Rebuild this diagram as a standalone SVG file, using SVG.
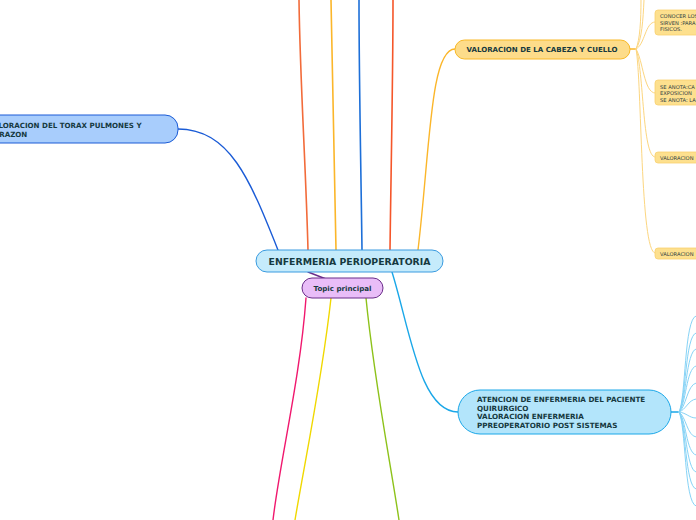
<svg xmlns="http://www.w3.org/2000/svg" width="696" height="520" viewBox="0 0 696 520">
<style>
.t{font-family:"DejaVu Sans",Verdana,sans-serif;font-weight:bold;fill:#16393f}
.s{font-family:"DejaVu Sans",Verdana,sans-serif;fill:#2b3a3f;font-size:5.2px}
.c{fill:none;stroke-linecap:round}
.fy{stroke:#fcd680;stroke-width:1}
.fb{stroke:#86d3f6;stroke-width:1}
.small{fill:#fde08e;stroke:#f9d070;stroke-width:0.8}
</style>
<rect width="696" height="520" fill="#ffffff"/>
<g id="connectors">
  <path class="c" d="M308,250 C306,170 300,80 299,0" stroke="#f26b3a" stroke-width="1.6"/>
  <path class="c" d="M336,250 C335,170 332,80 331,0" stroke="#fbb62a" stroke-width="1.6"/>
  <path class="c" d="M362,250 C361,170 359,80 359,0" stroke="#1d6fd8" stroke-width="1.6"/>
  <path class="c" d="M390,250 C391,170 393,80 393,0" stroke="#f5562a" stroke-width="1.6"/>
  <path class="c" d="M418,250 C430,150 430,49 455,49" stroke="#fbb62a" stroke-width="1.4"/>
  <path class="c" d="M278,250 C250,180 230,129 178,129" stroke="#1a5bd6" stroke-width="1.4"/>
  <path class="c" d="M392,272 C410,330 420,412 458,412" stroke="#1aa7e8" stroke-width="1.4"/>
  <path class="c" d="M308,272 L326,279" stroke="#6a2d8a" stroke-width="1.4"/>
  <path class="c" d="M306,298 C300,380 280,460 273,520" stroke="#f0186e" stroke-width="1.4"/>
  <path class="c" d="M331,298 C322,380 305,460 295,520" stroke="#f0d800" stroke-width="1.4"/>
  <path class="c" d="M366,298 C374,380 390,460 399,520" stroke="#8dc21a" stroke-width="1.4"/>
  <path class="c" d="M630,49 L636,49" stroke="#fbb62a" stroke-width="1.4"/>
  <path class="c fy" d="M636,49 C640,40 641,20 641,0"/>
  <path class="c fy" d="M636,49 C642,40 643,20 644,0"/>
  <path class="c fy" d="M636,49 C645,45 645,22 655,22"/>
  <path class="c fy" d="M636,49 C643,60 644,93 655,93"/>
  <path class="c fy" d="M636,49 C644,70 642,157 655,157"/>
  <path class="c fy" d="M636,49 C642,80 640,253 655,253"/>
  <path class="c" d="M671,412 L679,412" stroke="#1aa7e8" stroke-width="1.4"/>
  <path class="c fb" d="M679,412 C686,400 684,318 696,316"/>
  <path class="c fb" d="M679,412 C686,402 685,335 696,333"/>
  <path class="c fb" d="M679,412 C686,404 686,351 696,349"/>
  <path class="c fb" d="M679,412 C686,406 686,368 696,366"/>
  <path class="c fb" d="M679,412 C686,408 687,385 696,383"/>
  <path class="c fb" d="M679,412 C686,410 688,400 696,399"/>
  <path class="c fb" d="M679,412 C687,413 689,418 696,418"/>
  <path class="c fb" d="M679,412 C686,416 687,436 696,437"/>
  <path class="c fb" d="M679,412 C686,418 686,453 696,455"/>
  <path class="c fb" d="M679,412 C686,420 686,470 696,472"/>
  <path class="c fb" d="M679,412 C686,422 685,487 696,489"/>
  <path class="c fb" d="M679,412 C686,424 684,503 696,506"/>
</g>
<g id="node-torax">
  <rect x="-30" y="115" width="208" height="28" rx="13" fill="#a8cdfc" stroke="#1a5bd6" stroke-width="1"/>
  <text class="t" x="-12" y="128" font-size="7.1">VALORACION DEL TORAX PULMONES Y</text>
  <text class="t" x="-12" y="137" font-size="7.1">CORAZON</text>
</g>
<g id="node-central">
  <rect x="256" y="250" width="187" height="22" rx="11" fill="#c5ebfb" stroke="#3a9be0" stroke-width="1"/>
  <text class="t" x="349.5" y="264.5" font-size="8.4" text-anchor="middle" textLength="162" lengthAdjust="spacingAndGlyphs">ENFERMERIA PERIOPERATORIA</text>
</g>
<g id="node-topic">
  <rect x="302" y="278" width="81" height="20" rx="10" fill="#e9bdf8" stroke="#6a2d8a" stroke-width="1"/>
  <text class="t" x="342.5" y="291" font-size="7" text-anchor="middle" textLength="58" lengthAdjust="spacingAndGlyphs">Topic principal</text>
</g>
<g id="node-cabeza">
  <rect x="455" y="40" width="175" height="19" rx="9.5" fill="#fddc8a" stroke="#f8b928" stroke-width="1"/>
  <text class="t" x="542" y="52" font-size="7" text-anchor="middle" textLength="151" lengthAdjust="spacingAndGlyphs">VALORACION DE LA CABEZA Y CUELLO</text>
</g>
<g id="node-atencion">
  <rect x="458" y="390" width="213" height="44" rx="22" fill="#b3e5fb" stroke="#1aa7e8" stroke-width="1"/>
  <text class="t" x="477" y="402" font-size="7.2">ATENCION DE ENFERMERIA DEL PACIENTE</text>
  <text class="t" x="477" y="410.5" font-size="7.2">QUIRURGICO</text>
  <text class="t" x="477" y="419" font-size="7.2">VALORACION ENFERMERIA</text>
  <text class="t" x="477" y="427.5" font-size="7.2">PPREOPERATORIO POST SISTEMAS</text>
</g>
<g id="node-conocer">
  <rect class="small" x="655" y="10" width="60" height="25" rx="3"/>
  <text class="s" x="660" y="18">CONOCER LOS</text>
  <text class="s" x="660" y="24.5">SIRVEN :PARA</text>
  <text class="s" x="660" y="31">FISICOS.</text>
</g>
<g id="node-seanota">
  <rect class="small" x="655" y="80" width="60" height="25" rx="3"/>
  <text class="s" x="660" y="88.5">SE ANOTA:CA</text>
  <text class="s" x="660" y="95">EXPOSICION</text>
  <text class="s" x="660" y="101.5">SE ANOTA: LA</text>
</g>
<g id="node-valoracion1">
  <rect class="small" x="655" y="152" width="60" height="11" rx="3"/>
  <text class="s" x="660" y="159.5">VALORACION</text>
</g>
<g id="node-valoracion2">
  <rect class="small" x="655" y="248" width="60" height="11" rx="3"/>
  <text class="s" x="660" y="255.5">VALORACION</text>
</g>
</svg>
